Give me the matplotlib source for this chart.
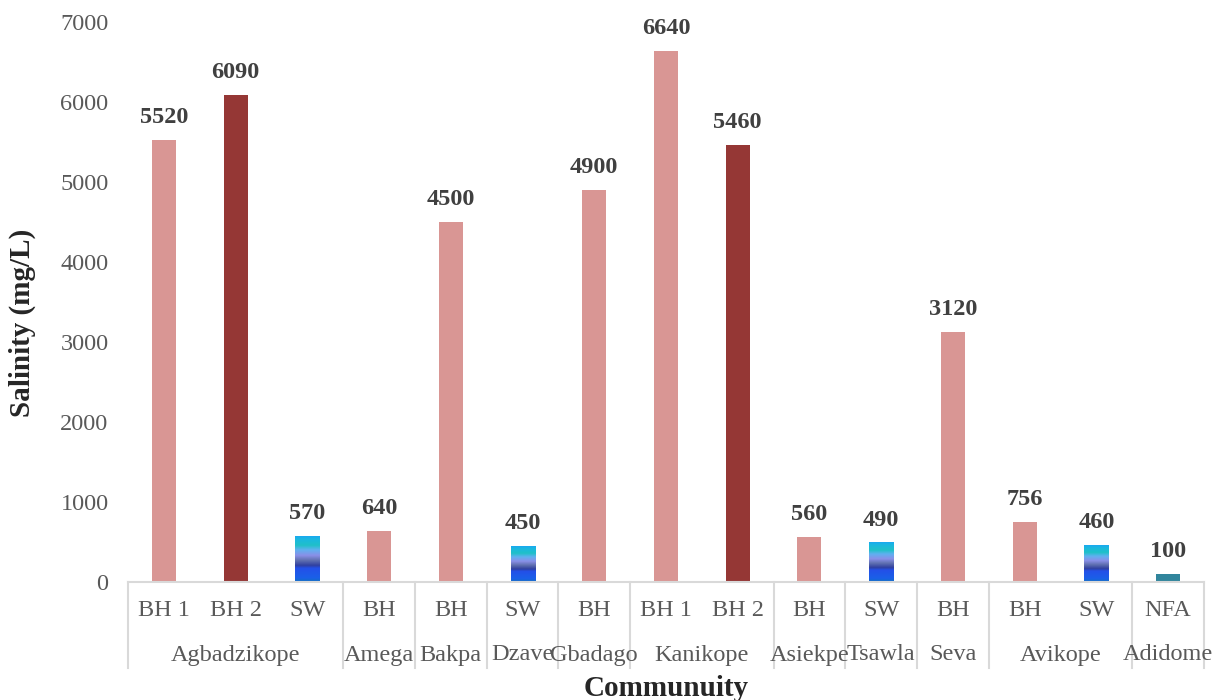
import matplotlib
matplotlib.use("Agg")
import matplotlib.pyplot as plt
import matplotlib.transforms as mtransforms
from matplotlib.colors import LinearSegmentedColormap
from matplotlib.lines import Line2D
import numpy as np

plt.rcParams['font.family'] = ['Liberation Serif', 'DejaVu Serif']

# Source type per sample and the community it belongs to
sources = ["BH 1", "BH 2", "SW", "BH", "BH", "SW", "BH", "BH 1", "BH 2",
           "BH", "SW", "BH", "BH", "SW", "NFA"]
communities = ["Agbadzikope", "Amega", "Bakpa", "Dzave", "Gbadago", "Kanikope",
               "Asiekpe", "Tsawla", "Seva", "Avikope", "Adidome"]
community_sizes = [3, 1, 1, 1, 1, 2, 1, 1, 1, 2, 1]
salinity = [5520, 6090, 570, 640, 4500, 450, 4900, 6640, 5460,
            560, 490, 3120, 756, 460, 100]
kinds = ["bh", "bh2", "sw", "bh", "bh", "sw", "bh", "bh", "bh2",
         "bh", "sw", "bh", "bh", "sw", "nfa"]

colors = {"bh": "#d99694", "bh2": "#953735", "nfa": "#31859c"}
# Banded fill for surface-water bars (bottom to top)
sw_stops = [(0.00, "#1070c0"), (0.09, "#1a60e8"), (0.30, "#2450e8"),
            (0.36, "#3040a0"), (0.47, "#6070b0"), (0.58, "#8a90e8"),
            (0.70, "#60b0f0"), (0.80, "#20c0c8"), (0.93, "#1ab8e0"),
            (1.00, "#1aa8f0")]
sw_cmap = LinearSegmentedColormap.from_list("sw", sw_stops)

FS = 17.5
fig = plt.figure(figsize=(12.25, 7), dpi=100)
ax = fig.add_axes([128 / 1225, 1 - 582 / 700, (1204 - 128) / 1225, 560 / 700])

x = np.arange(len(salinity))
width = 0.335
for xi, val, kind in zip(x, salinity, kinds):
    if kind == "sw":
        grad = np.linspace(0, 1, 256).reshape(-1, 1)
        ax.imshow(grad, cmap=sw_cmap, origin="lower", aspect="auto",
                  extent=(xi - width / 2, xi + width / 2, 0, val), zorder=2)
    else:
        ax.bar(xi, val, width=width, color=colors[kind], zorder=2)
    ax.text(xi, val + 150, f"{val}", ha="center", va="bottom",
            fontsize=FS, fontweight="bold", color="#404040")

ax.set_xlim(-0.5, len(salinity) - 0.5)
ax.set_ylim(0, 7000)
ax.set_yticks(np.arange(0, 7001, 1000))
ax.tick_params(axis="y", length=0, labelsize=FS, labelcolor="#595959", pad=14)
ax.set_xticks([])
for side in ["top", "right", "left"]:
    ax.spines[side].set_visible(False)
ax.spines["bottom"].set_color("#d9d9d9")
ax.spines["bottom"].set_linewidth(1.5)

# Two-level category axis
trans = mtransforms.blended_transform_factory(ax.transData, ax.transAxes)
row1 = -(610 - 582) / 560
row2 = -(655 - 582) / 560
bottom = -(668 - 582) / 560
for xi, s in zip(x, sources):
    ax.text(xi, row1, s, transform=trans, ha="center", va="center",
            fontsize=FS, color="#595959")

edges = np.concatenate([[0], np.cumsum(community_sizes)]) - 0.5
for name, lo, hi in zip(communities, edges[:-1], edges[1:]):
    ax.text((lo + hi) / 2, row2, name, transform=trans, ha="center",
            va="center", fontsize=FS, color="#595959")
for e in edges:
    ax.add_line(Line2D([e, e], [0, bottom], transform=trans, color="#d9d9d9",
                       lw=1.5, clip_on=False))

fig.text(22 / 1225, 1 - 323 / 700, "Salinity (mg/L)", rotation=90,
         ha="center", va="center", fontsize=21, fontweight="bold",
         color="#262626")
fig.text((128 + 1204) / 2 / 1225, 1 - 688 / 700, "Communuity", ha="center",
         va="center", fontsize=21, fontweight="bold", color="#262626")

fig.savefig("out.png", dpi=100, facecolor="white")
